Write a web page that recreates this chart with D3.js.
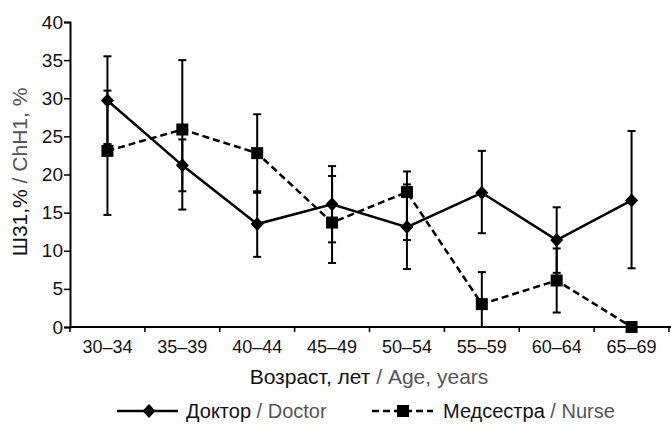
<!DOCTYPE html>
<meta charset="utf-8">
<script src="https://d3js.org/d3.v7.min.js"></script>
<style>
  body { margin: 0; background: #fff; }
  text { font-family: "Liberation Sans", Arial, sans-serif; fill: #111; }
  .en { fill: #555; }
</style>
<div id="chart"></div>
<script>

// age groups
var groups = ["30–34", "35–39", "40–44", "45–49", "50–54", "55–59", "60–64", "65–69"];

// Doctor: value, lower and upper error bound
var doctor    = [29.7, 21.2, 13.5, 16.1, 13.1, 17.6, 11.4, 16.6];
var doctorLo  = [24.0, 17.8,  9.2, 11.1,  7.6, 12.3,  7.1,  7.7];
var doctorHi  = [35.5, 24.6, 17.8, 21.1, 18.7, 23.1, 15.7, 25.7];

// Nurse
var nurse     = [23.1, 25.9, 22.8, 13.7, 17.7,  3.0,  6.1,  0.0];
var nurseLo   = [14.7, 15.4, 17.6,  8.4, 11.4,  0.0,  1.9,  0.0];
var nurseHi   = [31.0, 35.0, 27.9, 19.8, 20.4,  7.2, 10.3,  0.0];

var yTicks = [0, 5, 10, 15, 20, 25, 30, 35, 40];

var W = 671, H = 424;
var margin = {top: 22, right: 2, bottom: 97, left: 70},
    width = 669 - margin.left,
    height = 327 - margin.top;

var svg = d3.select("#chart")
  .append("svg")
    .attr("width", W)
    .attr("height", H)
  .append("g")
    .attr("transform", "translate(" + margin.left + "," + margin.top + ")");

var x = d3.scaleBand().domain(groups).range([0, width]);
var y = d3.scaleLinear().domain([0, 40]).range([height, 0]);

// Y axis
var gy = svg.append("g")
  .call(d3.axisLeft(y).tickValues(yTicks).tickSize(6).tickPadding(1));
gy.selectAll("text").style("font-size", "19px").attr("fill", "#111");
gy.select(".domain").attr("stroke-width", 2);
gy.selectAll(".tick line").attr("stroke-width", 1.5);

// X axis: labels centred in bands, ticks at band edges
var gx = svg.append("g")
  .attr("transform", "translate(0," + height + ")")
  .call(d3.axisBottom(x).tickSize(0).tickPadding(13));
gx.selectAll("text").style("font-size", "18px").attr("fill", "#111");
gx.select(".domain").attr("d", "M0,0H" + (width + 2)).attr("stroke-width", 2);
gx.selectAll(".edge")
  .data(groups.concat(["end"]))
  .enter().append("line")
    .attr("class", "edge")
    .attr("x1", function(d, i) { return i < groups.length ? x(d) : x.range()[1]; })
    .attr("x2", function(d, i) { return i < groups.length ? x(d) : x.range()[1]; })
    .attr("y1", 0).attr("y2", 5)
    .attr("stroke", "#000").attr("stroke-width", 1.5);

var cx = function(d, i) { return x(groups[i]) + x.bandwidth() / 2; };

var series = [
  {name: "doctor", vals: doctor, lo: doctorLo, hi: doctorHi, dash: null},
  {name: "nurse", vals: nurse, lo: nurseLo, hi: nurseHi, dash: "7,4"}
];

// error bars
series.forEach(function(s) {
  var g = svg.append("g").attr("stroke", "#000").attr("stroke-width", 2);
  s.vals.forEach(function(v, i) {
    if (s.hi[i] === s.lo[i]) return;
    var px = cx(v, i);
    g.append("line").attr("x1", px).attr("x2", px).attr("y1", y(s.lo[i])).attr("y2", y(s.hi[i]));
    g.append("line").attr("x1", px - 4).attr("x2", px + 4).attr("y1", y(s.hi[i])).attr("y2", y(s.hi[i]));
    if (s.lo[i] > 0)
      g.append("line").attr("x1", px - 4).attr("x2", px + 4).attr("y1", y(s.lo[i])).attr("y2", y(s.lo[i]));
  });
});

// lines
var line = d3.line().x(function(d, i) { return cx(d, i); }).y(function(d) { return y(d); });
series.forEach(function(s) {
  svg.append("path")
    .datum(s.vals)
    .attr("d", line)
    .attr("fill", "none")
    .attr("stroke", "#000")
    .attr("stroke-width", 2.5)
    .attr("stroke-dasharray", s.dash);
});

var diamond = "M0,-7L6.5,0L0,7L-6.5,0Z";
var square = "M-6,-6H6V6H-6Z";

svg.selectAll(".dmk").data(doctor).enter().append("path")
  .attr("d", diamond)
  .attr("transform", function(d, i) { return "translate(" + cx(d, i) + "," + y(d) + ")"; })
  .attr("fill", "#000");

svg.selectAll(".nmk").data(nurse).enter().append("path")
  .attr("d", square)
  .attr("transform", function(d, i) { return "translate(" + cx(d, i) + "," + y(d) + ")"; })
  .attr("fill", "#000");

// axis titles
var root = d3.select("#chart svg");
var xt = root.append("text")
  .attr("x", 369).attr("y", 384)
  .attr("text-anchor", "middle")
  .style("font-size", "21px");
xt.append("tspan").text("Возраст, лет ");
xt.append("tspan").attr("class", "en").text("/ Age, years");

var yt = root.append("text")
  .attr("transform", "translate(27,172) rotate(-90)")
  .attr("text-anchor", "middle")
  .style("font-size", "21px");
yt.append("tspan").text("Ш31,% ");
yt.append("tspan").attr("class", "en").text("/ ChH1, %");

// legend
var leg = root.append("g");
leg.append("line").attr("x1", 117).attr("x2", 178).attr("y1", 411).attr("y2", 411)
  .attr("stroke", "#000").attr("stroke-width", 2.5);
leg.append("path").attr("d", diamond).attr("transform", "translate(149,411)").attr("fill", "#000");
var t1 = leg.append("text").attr("x", 186).attr("y", 418).style("font-size", "20px");
t1.append("tspan").text("Доктор ");
t1.append("tspan").attr("class", "en").text("/ Doctor");

leg.append("line").attr("x1", 372).attr("x2", 433).attr("y1", 411).attr("y2", 411)
  .attr("stroke", "#000").attr("stroke-width", 2.5).attr("stroke-dasharray", "7,4");
leg.append("path").attr("d", square).attr("transform", "translate(403,411)").attr("fill", "#000");
var t2 = leg.append("text").attr("x", 443).attr("y", 418).style("font-size", "20px");
t2.append("tspan").text("Медсестра ");
t2.append("tspan").attr("class", "en").text("/ Nurse");

</script>
